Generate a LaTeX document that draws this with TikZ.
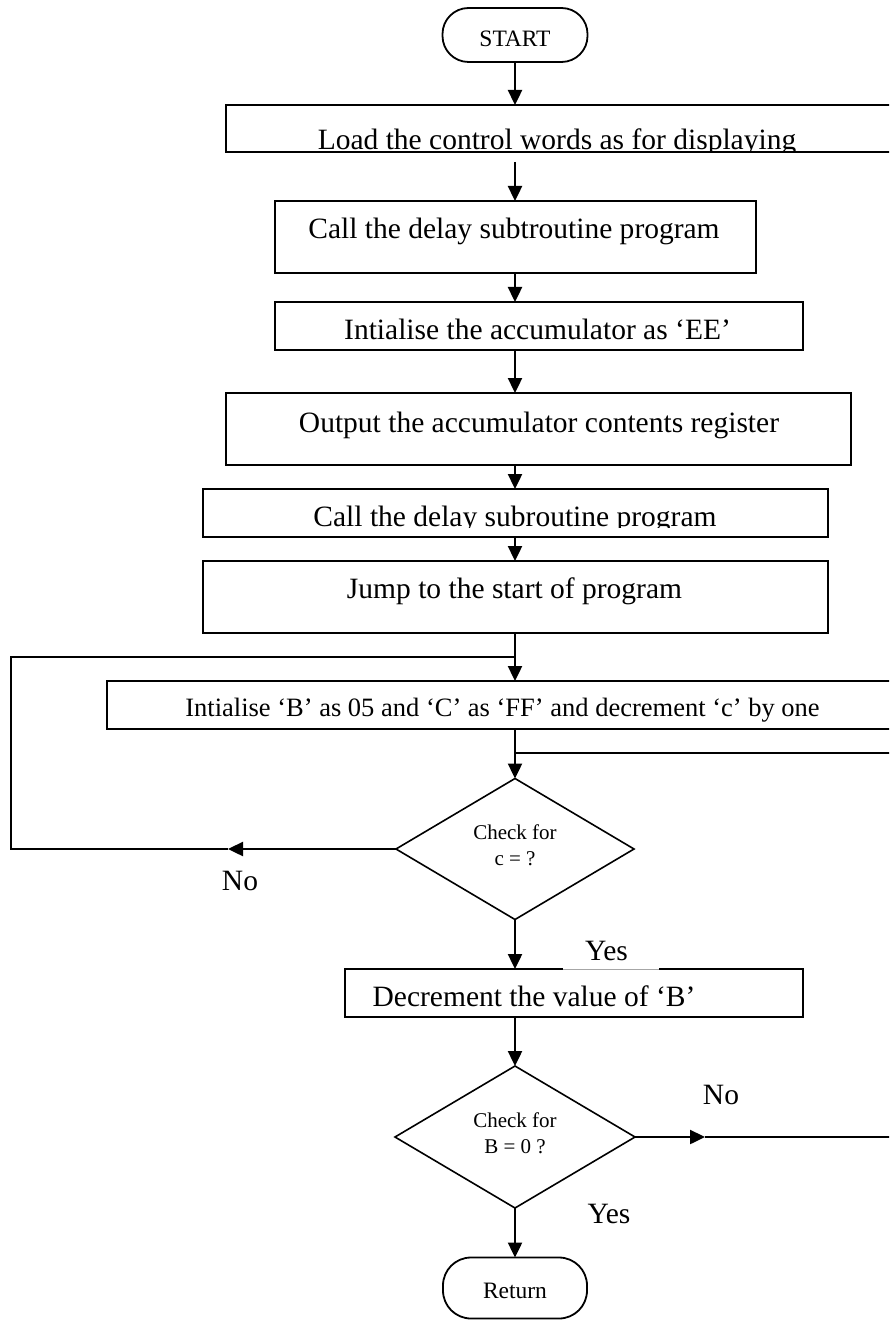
\documentclass[tikz,border=0pt]{standalone}
\usepackage{fontspec}
\setmainfont{Liberation Serif}
\usetikzlibrary{arrows.meta,shapes.geometric}
\begin{document}
\begin{tikzpicture}[x=1pt,y=1pt,
  box/.style={draw, line width=1.8pt, rectangle, inner sep=0pt, outer sep=0pt},
  term/.style={draw, line width=1.8pt, rectangle, rounded corners=26pt, inner sep=0pt, outer sep=0pt},
  dec/.style={draw, line width=1.6pt, diamond, inner sep=0pt, outer sep=0pt},
  flow/.style={line width=2.4pt, -{Triangle[length=15pt,width=14pt]}},
  link/.style={line width=1.6pt},
  txt/.style={anchor=base, inner sep=0pt, font=\fontsize{29.5}{32}\selectfont},
  midtxt/.style={anchor=base, inner sep=0pt, font=\fontsize{26.5}{30}\selectfont},
  termtxt/.style={anchor=base, inner sep=0pt, font=\fontsize{23.5}{26}\selectfont},
  small/.style={anchor=base, inner sep=0pt, font=\fontsize{21}{24}\selectfont}
]
\clip (0,0) rectangle (889,-1321);
\fill[white] (0,0) rectangle (889,-1321);

% terminals
\node[term, minimum width=145pt, minimum height=54pt] (start) at (515,-35) {};
\node[termtxt] (tstart) at (515,-47) {START};
\node[term, minimum width=144pt, minimum height=61pt, rounded corners=28pt] (ret) at (515,-1288) {};
\node[termtxt] (tret) at (515,-1298) {Return};

% process boxes
\node[box, minimum width=674pt, minimum height=47pt] (b1) at (563,-128.5) {};
\node[box, minimum width=481pt, minimum height=72pt] (b2) at (515.5,-237) {};
\node[box, minimum width=528pt, minimum height=48pt] (b3) at (539,-326) {};
\node[box, minimum width=625pt, minimum height=72pt] (b4) at (538.5,-429) {};
\node[box, minimum width=625pt, minimum height=48pt] (b5) at (515.5,-513) {};
\node[box, minimum width=625pt, minimum height=72pt] (b6) at (515.5,-597) {};
\node[box, minimum width=793pt, minimum height=48pt] (b7) at (503.5,-705) {};
\node[box, minimum width=458pt, minimum height=48pt] (b8) at (574,-993) {};

% decisions
\node[dec, minimum width=238pt, minimum height=141pt] (d1) at (515,-849) {};
\node[dec, minimum width=240pt, minimum height=142pt] (d2) at (515,-1137) {};

% box texts (some are cut off at the bottom of their frame)
\begin{scope}
  \clip (0,-60) rectangle (889,-151.5);
  \node[txt] (t1) at (557,-150) {Load the control words as for displaying};
\end{scope}
\node[txt] (t2) at (514,-239) {Call the delay subtroutine program};
\node[txt] (t3) at (537.5,-339) {Intialise the accumulator as ‘EE’};
\node[txt] (t4) at (539,-432) {Output the accumulator contents register};
\begin{scope}
  \clip (0,-480) rectangle (889,-527.5);
  \node[txt] (t5) at (515,-526) {Call the delay subroutine program};
\end{scope}
\node[txt] (t6) at (514.5,-598) {Jump to the start of program};
\node[midtxt] (t7) at (502.5,-716) {Intialise ‘B’ as 05 and ‘C’ as ‘FF’ and decrement ‘c’ by one};
\node[txt] (t8) at (534,-1006) {Decrement the value of ‘B’};

\node[small] (d1a) at (515,-839) {Check for};
\node[small] (d1b) at (515,-865) {c = ?};
\node[small] (d2a) at (515,-1127) {Check for};
\node[small] (d2b) at (515,-1153) {B = 0 ?};

% main flow
\draw[flow] (start.south) -- (start.south |- b1.north);
\draw[flow, shorten <=10pt] (b1.south -| start) -- (start |- b2.north);
\draw[flow] (b2.south -| start) -- (start |- b3.north);
\draw[flow] (b3.south -| start) -- (start |- b4.north);
\draw[flow] (b4.south -| start) -- (start |- b5.north);
\draw[flow] (b5.south -| start) -- (start |- b6.north);
\draw[flow] (b6.south -| start) -- (start |- b7.north);
\draw[flow] (b7.south -| start) -- (d1.north);
\draw[flow] (d1.south) -- (start |- b8.north);
\draw[flow] (b8.south -| start) -- (d2.north);
\draw[flow] (d2.south) -- (ret.north);

% loop back when c is not zero
\coordinate (ltip) at (228,-849);
\coordinate (lc1) at (11,-849);
\coordinate (lc2) at (11,-657);
\coordinate (jtop) at (515,-657);
\draw[flow] (d1.west) -- (ltip);
\draw[link] (ltip) -- (lc1) -- (lc2) -- (jtop);

% loop back when B is not zero
\coordinate (rtip) at (705,-1137);
\coordinate (rc1) at (900,-1137);
\coordinate (rc2) at (900,-753);
\coordinate (jbot) at (515,-753);
\draw[flow] (d2.east) -- (rtip);
\draw[link] (rtip) -- (rc1) -- (rc2) -- (jbot);

% branch labels
\node[fill=white, minimum width=96pt, minimum height=38pt, inner sep=0pt] (yesbg) at (611,-950) {};
\draw[black!35, line width=0.8pt] (yesbg.south west) -- (yesbg.south east);
\node[txt] (yes1) at (606.5,-960) {Yes};
\node[txt] (no1) at (240,-890) {No};
\node[txt] (no2) at (721,-1104) {No};
\node[txt] (yes2) at (609,-1223) {Yes};
\end{tikzpicture}
\end{document}
